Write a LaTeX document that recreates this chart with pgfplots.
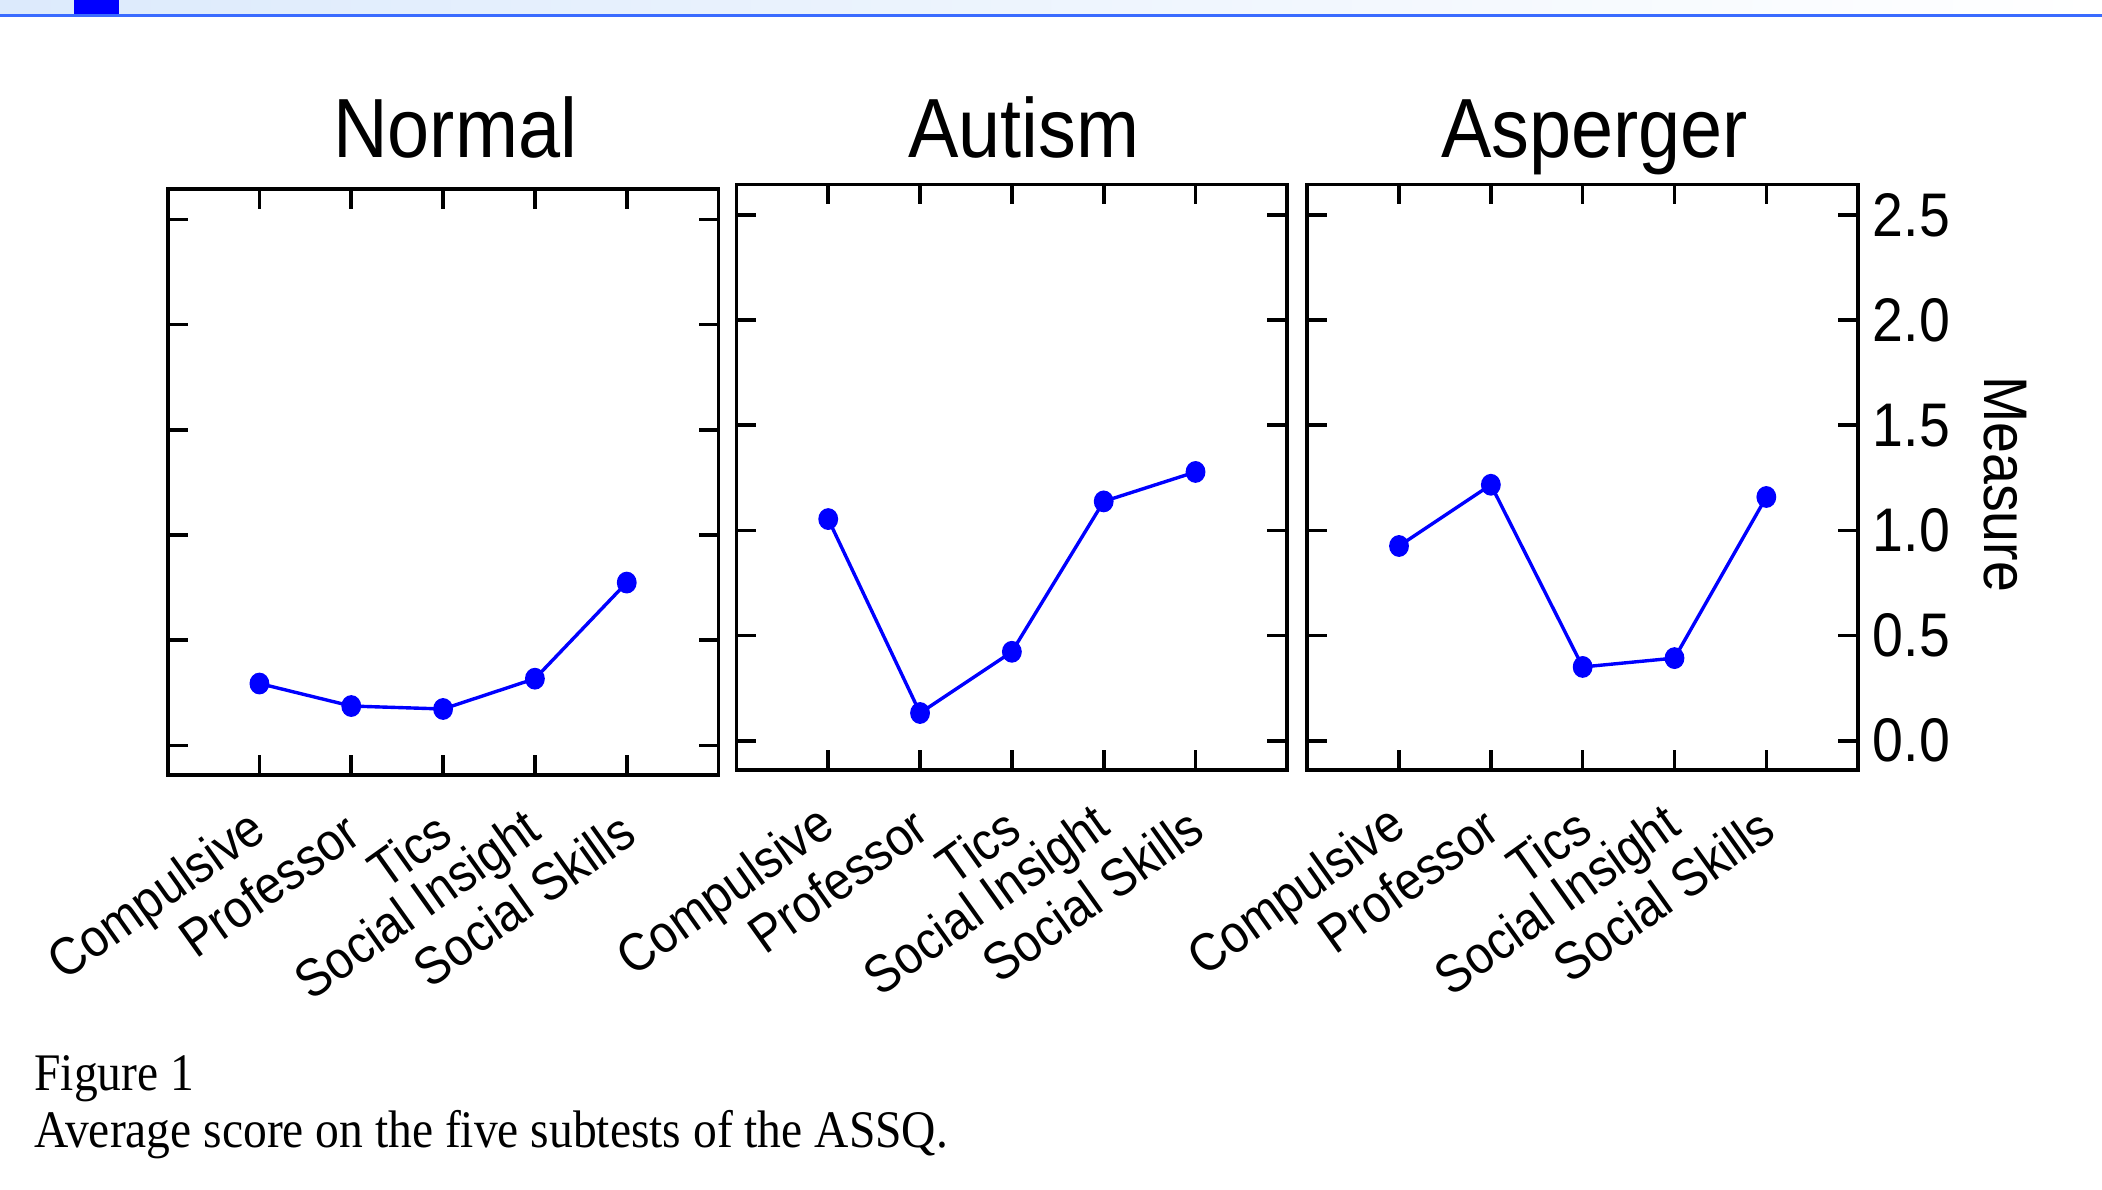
\documentclass[border=0pt]{standalone}
\usepackage{fontspec}
\setmainfont{Liberation Sans}[FakeStretch=0.9]
\newfontfamily\capfont{Liberation Serif}[FakeStretch=0.9]
\usepackage{pgfplots}
\pgfplotsset{compat=1.18}

\definecolor{bandblue}{HTML}{DCEAFC}
\definecolor{lineblue}{HTML}{3A6BFF}

\pgfplotsset{
  panel/.style={
    scale only axis, width=137.75pt, height=146.4pt,
    anchor=north west,
    xmin=0, xmax=6, ymin=-0.139, ymax=2.645,
    xtick={1,2,3,4,5},
    xticklabels={Compulsive,Professor,Tics,Social Insight,Social Skills},
    ytick={0,0.5,1,1.5,2,2.5}, yticklabels={},
    major tick length=5pt,
    axis line style={line width=0.95pt},
    tick style={line width=0.9pt, black},
    xticklabel style={font=\fontsize{13.3}{13.3}\selectfont, xshift=1.2pt, yshift=-12pt,
      rotate=35.5, anchor=east, inner sep=1pt},
    every axis title/.style={at={(0.5,1)}, anchor=base, xshift=3pt,
      font=\fontsize{21}{21}\selectfont},
  },
  meas/.style={blue, line width=0.85pt, mark=*, mark size=2.05pt,
    mark options={solid, fill=blue, yscale=1.12}},
}

\begin{document}
\begin{tikzpicture}
\path[use as bounding box] (0,0) rectangle (525.5pt,-297.5pt);
% strip at the top of the page
\shade[left color=bandblue, right color=white] (0,0) rectangle (525.5pt,-3.6pt);
\fill[blue] (18.5pt,0) rectangle (29.75pt,-3.6pt);
\draw[lineblue, line width=0.6pt] (0,-3.9pt) -- (525.5pt,-3.9pt);

\begin{axis}[panel, at={(41.9pt,-47.25pt)}, title={Normal},
  title style={yshift=8pt}]
\addplot[meas] coordinates {(1,0.294) (2,0.187) (3,0.173) (4,0.317) (5,0.774)};
\end{axis}

\begin{axis}[panel, at={(184.1pt,-46.1pt)}, title={Autism},
  title style={yshift=6.85pt}]
\addplot[meas] coordinates {(1,1.054) (2,0.132) (3,0.423) (4,1.138) (5,1.278)};
\end{axis}

\begin{axis}[panel, at={(326.8pt,-46.1pt)}, title={Asperger},
  title style={yshift=6.85pt},
  yticklabel pos=right,
  yticklabels={0.0,0.5,1.0,1.5,2.0,2.5},
  yticklabel style={font=\fontsize{15.4}{15.4}\selectfont, inner sep=0pt, xshift=3.5pt},
  ylabel={Measure},
  every axis y label/.style={at={(axis description cs:1.268,0.488)}, rotate=-90,
    anchor=center, font=\fontsize{15.4}{15.4}\selectfont}]
\addplot[meas] coordinates {(1,0.926) (2,1.217) (3,0.351) (4,0.393) (5,1.159)};
\end{axis}

\node[anchor=base west, inner sep=0pt, font={\capfont\fontsize{13.2}{15}\selectfont}]
  at (8.4pt,-272.5pt) {Figure 1};
\node[anchor=base west, inner sep=0pt, font={\capfont\fontsize{13.2}{15}\selectfont}]
  at (8.4pt,-286.8pt) {Average score on the five subtests of the ASSQ.};
\end{tikzpicture}
\end{document}
